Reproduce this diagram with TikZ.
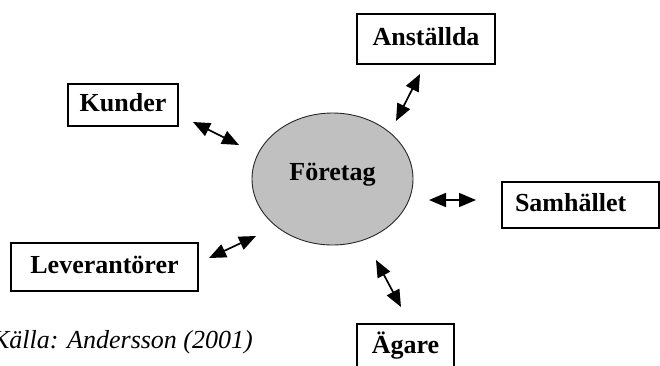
\documentclass[tikz,border=0pt]{standalone}
\usepackage{fontspec}
\setmainfont{Liberation Serif}
\usetikzlibrary{arrows.meta,shapes.geometric}
\definecolor{firmgray}{RGB}{192,192,192}

\begin{document}
\begin{tikzpicture}[
  x=1pt,y=-1pt,
  >={Triangle[length=17pt,width=14pt]},
  party/.style={draw,line width=1.1pt,inner sep=0pt,text height=12pt,text depth=0pt,
    font=\fontsize{26}{29}\selectfont\bfseries},
  firm/.style={ellipse,draw=black!85,fill=firmgray,line width=0.9pt,inner sep=0pt,
    minimum width=161pt,minimum height=132pt,text height=12pt,text depth=10pt,
    font=\fontsize{26}{29}\selectfont\bfseries},
  link/.style={<->,line width=1.7pt},
  source/.style={font=\fontsize{26}{30}\selectfont\itshape}
]
  % Frame of the page: 660 x 365, y grows downwards.
  \useasboundingbox (0,0) rectangle (660,365);

  % The company in the middle.
  \node[firm] (foretag) at (332.5,179) {Företag};

  % Stakeholders around it.
  \node[party,minimum width=110pt,minimum height=42pt] (kunder) at (123,105) {Kunder};
  \node[party,minimum width=187pt,minimum height=48pt] (leverantorer) at (104.5,267) {Leverantörer};
  \node[party,minimum width=138pt,minimum height=50pt] (anstallda) at (426,39) {Anställda};
  \node[party,text width=131pt,inner xsep=13pt,align=left,minimum height=46pt]
    (samhallet) at (580.5,205) {Samhället};
  \node[party,minimum width=97pt,minimum height=46pt] (agare) at (405.5,347) {Ägare};

  % Free-standing two-way arrows between each party and the company.
  \coordinate (k1) at (193,122);  \coordinate (k2) at (239,145);
  \coordinate (l1) at (209,258);  \coordinate (l2) at (256,236);
  \coordinate (a1) at (420,74);   \coordinate (a2) at (396,121);
  \coordinate (s1) at (429,200);  \coordinate (s2) at (476,200);
  \coordinate (g1) at (376,260);  \coordinate (g2) at (401,307);
  \draw[link] (k1) -- (k2);
  \draw[link] (l1) -- (l2);
  \draw[link] (a1) -- (a2);
  \draw[link] (s1) -- (s2);
  \draw[link] (g1) -- (g2);

  % Source line, partly cut by the left edge.
  \node[source,anchor=base east,inner sep=0pt] (kalla) at (253,348) {Källa: Andersson (2001)};
\end{tikzpicture}
\end{document}
